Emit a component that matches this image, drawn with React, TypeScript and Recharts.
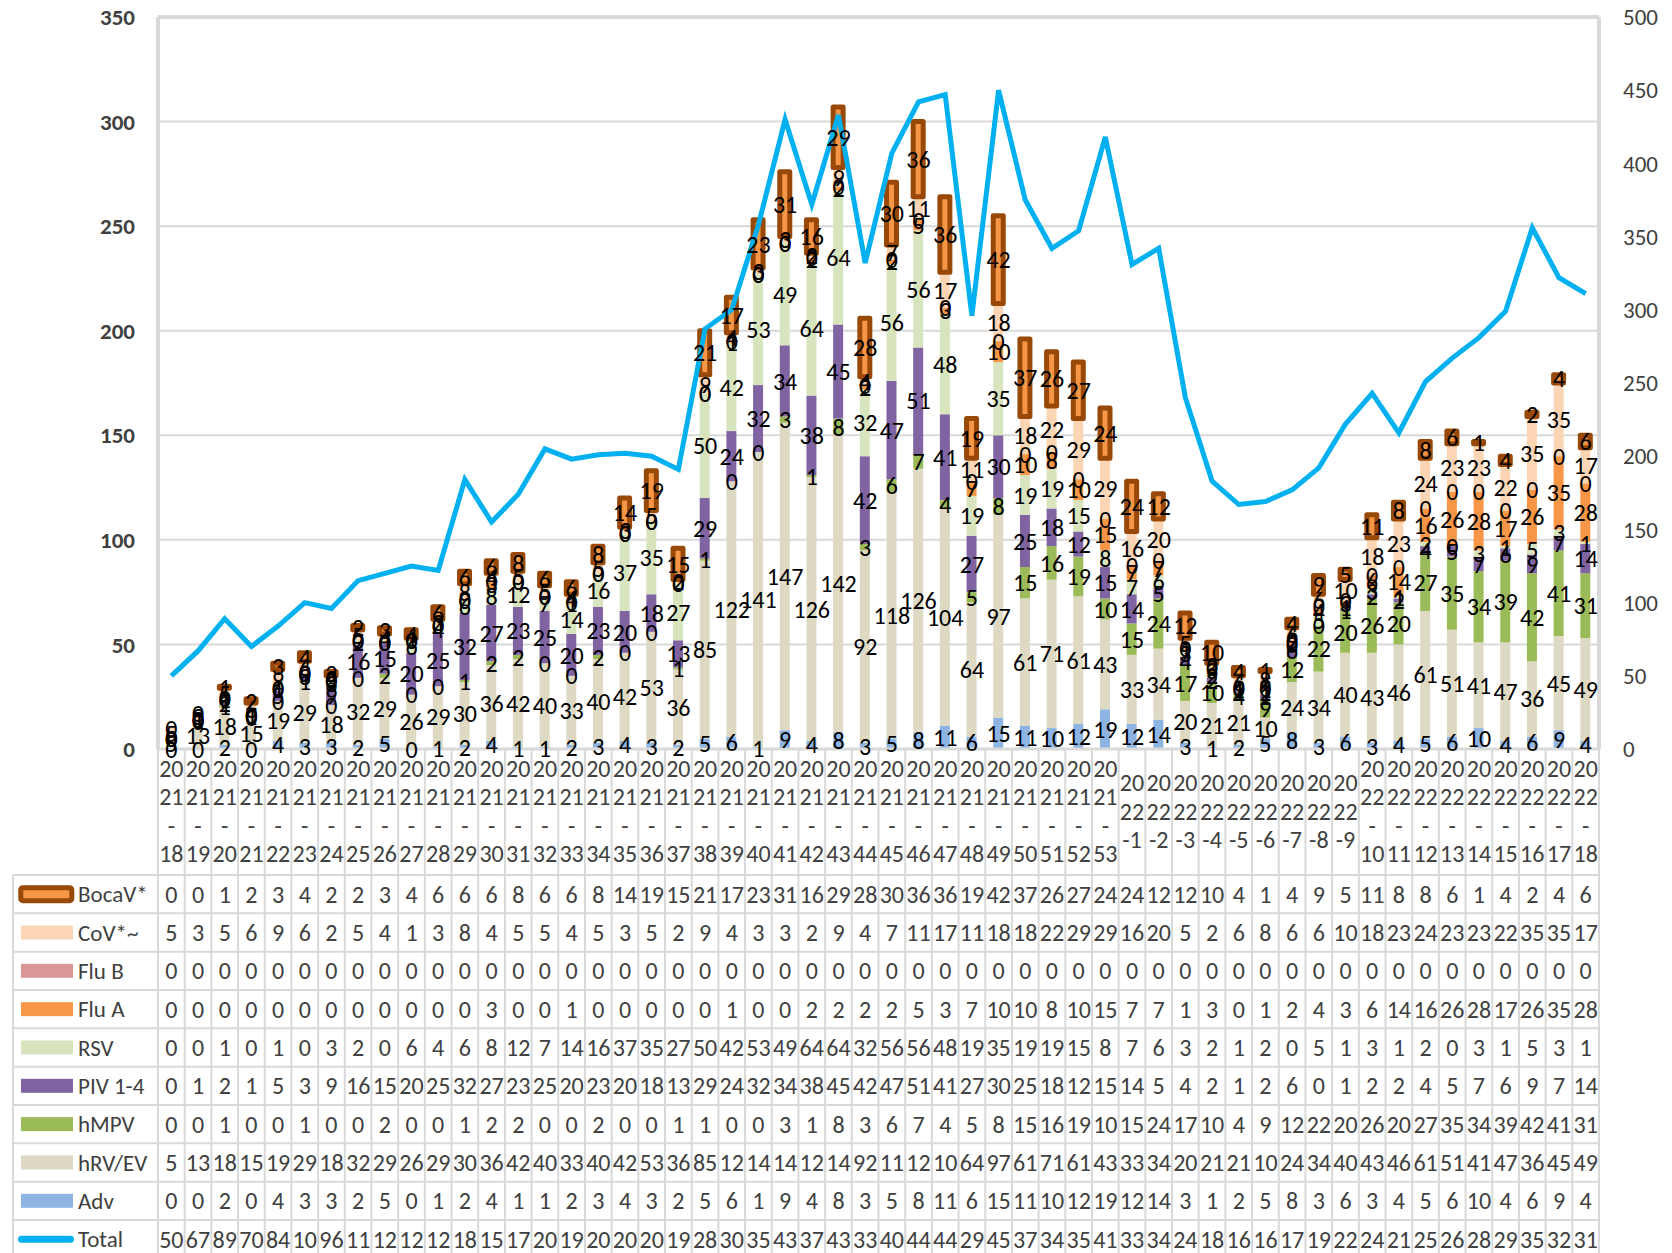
import React from "react";
import {
  ComposedChart,
  Bar,
  Line,
  XAxis,
  YAxis,
  CartesianGrid,
  ReferenceLine,
} from "recharts";

// weeks (year-week)
const weeks = [
  "2021-18", "2021-19", "2021-20", "2021-21", "2021-22", "2021-23", "2021-24", "2021-25", "2021-26",
  "2021-27", "2021-28", "2021-29", "2021-30", "2021-31", "2021-32", "2021-33", "2021-34", "2021-35",
  "2021-36", "2021-37", "2021-38", "2021-39", "2021-40", "2021-41", "2021-42", "2021-43", "2021-44",
  "2021-45", "2021-46", "2021-47", "2021-48", "2021-49", "2021-50", "2021-51", "2021-52", "2021-53",
  "2022-1", "2022-2", "2022-3", "2022-4", "2022-5", "2022-6", "2022-7", "2022-8", "2022-9",
  "2022-10", "2022-11", "2022-12", "2022-13", "2022-14", "2022-15", "2022-16", "2022-17", "2022-18",
];

const bocav = [0, 0, 1, 2, 3, 4, 2, 2, 3, 4, 6, 6, 6, 8, 6, 6, 8, 14, 19, 15, 21, 17, 23, 31, 16, 29, 28, 30, 36, 36, 19, 42, 37, 26, 27, 24, 24, 12, 12, 10, 4, 1, 4, 9, 5, 11, 8, 8, 6, 1, 4, 2, 4, 6];
const cov = [5, 3, 5, 6, 9, 6, 2, 5, 4, 1, 3, 8, 4, 5, 5, 4, 5, 3, 5, 2, 9, 4, 3, 3, 2, 9, 4, 7, 11, 17, 11, 18, 18, 22, 29, 29, 16, 20, 5, 2, 6, 8, 6, 6, 10, 18, 23, 24, 23, 23, 22, 35, 35, 17];
const flub = [0, 0, 0, 0, 0, 0, 0, 0, 0, 0, 0, 0, 0, 0, 0, 0, 0, 0, 0, 0, 0, 0, 0, 0, 0, 0, 0, 0, 0, 0, 0, 0, 0, 0, 0, 0, 0, 0, 0, 0, 0, 0, 0, 0, 0, 0, 0, 0, 0, 0, 0, 0, 0, 0];
const flua = [0, 0, 0, 0, 0, 0, 0, 0, 0, 0, 0, 0, 3, 0, 0, 1, 0, 0, 0, 0, 0, 1, 0, 0, 2, 2, 2, 2, 5, 3, 7, 10, 10, 8, 10, 15, 7, 7, 1, 3, 0, 1, 2, 4, 3, 6, 14, 16, 26, 28, 17, 26, 35, 28];
const rsv = [0, 0, 1, 0, 1, 0, 3, 2, 0, 6, 4, 6, 8, 12, 7, 14, 16, 37, 35, 27, 50, 42, 53, 49, 64, 64, 32, 56, 56, 48, 19, 35, 19, 19, 15, 8, 7, 6, 3, 2, 1, 2, 0, 5, 1, 3, 1, 2, 0, 3, 1, 5, 3, 1];
const piv = [0, 1, 2, 1, 5, 3, 9, 16, 15, 20, 25, 32, 27, 23, 25, 20, 23, 20, 18, 13, 29, 24, 32, 34, 38, 45, 42, 47, 51, 41, 27, 30, 25, 18, 12, 15, 14, 5, 4, 2, 1, 2, 6, 0, 1, 2, 2, 4, 5, 7, 6, 9, 7, 14];
const hmpv = [0, 0, 1, 0, 0, 1, 0, 0, 2, 0, 0, 1, 2, 2, 0, 0, 2, 0, 0, 1, 1, 0, 0, 3, 1, 8, 3, 6, 7, 4, 5, 8, 15, 16, 19, 10, 15, 24, 17, 10, 4, 9, 12, 22, 20, 26, 20, 27, 35, 34, 39, 42, 41, 31];
const hrv = [5, 13, 18, 15, 19, 29, 18, 32, 29, 26, 29, 30, 36, 42, 40, 33, 40, 42, 53, 36, 85, 122, 141, 147, 126, 142, 92, 118, 126, 104, 64, 97, 61, 71, 61, 43, 33, 34, 20, 21, 21, 10, 24, 34, 40, 43, 46, 61, 51, 41, 47, 36, 45, 49];
const adv = [0, 0, 2, 0, 4, 3, 3, 2, 5, 0, 1, 2, 4, 1, 1, 2, 3, 4, 3, 2, 5, 6, 1, 9, 4, 8, 3, 5, 8, 11, 6, 15, 11, 10, 12, 19, 12, 14, 3, 1, 2, 5, 8, 3, 6, 3, 4, 5, 6, 10, 4, 6, 9, 4];
const total = [50, 67, 89, 70, 84, 100, 96, 115, 120, 125, 122, 184, 155, 174, 205, 198, 201, 202, 200, 191, 287, 300, 358, 430, 372, 433, 332, 407, 442, 447, 296, 450, 375, 342, 354, 418, 331, 342, 240, 183, 167, 169, 177, 192, 222, 243, 216, 251, 267, 281, 299, 356, 322, 311];

const leftTicks = [0, 50, 100, 150, 200, 250, 300, 350];
const rightTicks = [0, 50, 100, 150, 200, 250, 300, 350, 400, 450, 500];

// stacked bottom -> top
const stackSeries = [
  { key: "adv", name: "Adv", color: "#8EB4E3", values: adv },
  { key: "hrv", name: "hRV/EV", color: "#DDD9C3", values: hrv },
  { key: "hmpv", name: "hMPV", color: "#9BBB59", values: hmpv },
  { key: "piv", name: "PIV 1-4", color: "#8064A2", values: piv },
  { key: "rsv", name: "RSV", color: "#D7E4BD", values: rsv },
  { key: "flua", name: "Flu A", color: "#F79646", values: flua },
  { key: "flub", name: "Flu B", color: "#D99694", values: flub },
  { key: "cov", name: "CoV*~", color: "#FCD5B5", values: cov },
  { key: "bocav", name: "BocaV*", color: "#F79646", values: bocav },
];

const data = weeks.map((w, i) => {
  const row: Record<string, any> = { week: w, total: total[i] };
  stackSeries.forEach((s) => (row[s.key] = s.values[i]));
  return row;
});

// middle of segment k in a stacked row (used to place the segment labels, 0s included)
function segMid(row: Record<string, any>, k: number) {
  let base = 0;
  for (let j = 0; j < k; j++) base += row[stackSeries[j].key];
  return base + row[stackSeries[k].key] / 2;
}

// table rows, top -> bottom
const tableRows = [...stackSeries].reverse().map((s) => ({ name: s.name, color: s.color, key: s.key, values: s.values }));
tableRows.push({ name: "Total", color: "#00B0F0", key: "total", values: total });

const W = 1672;
const H = 1253;
const PLOT_L = 158;
const PLOT_R = 1599;
const PLOT_T = 17;
const PLOT_B = 749;
const COL_W = (PLOT_R - PLOT_L) / weeks.length;
const HEAD_B = 875;
const ROW_H = 38.33;
const GRID = "#d9d9d9";
const TXT = "#404040";
const FONT = "Carlito, Calibri, Lato, sans-serif";
const FS = 24;

function LegendColumn() {
  return (
    <g>
      {tableRows.map((r, i) => (
        <line key={"h" + i} x1={13} x2={PLOT_R + 1} y1={HEAD_B + i * ROW_H} y2={HEAD_B + i * ROW_H} stroke={GRID} strokeWidth={2} />
      ))}
      <line x1={13} x2={13} y1={HEAD_B} y2={H} stroke={GRID} strokeWidth={2} />
      {tableRows.map((r, i) => {
        const cy = HEAD_B + ROW_H * (i + 0.5);
        let sw;
        if (r.key === "bocav") {
          sw = <rect x={20.8} y={cy - 6.5} width={51} height={13} rx={2} fill={r.color} stroke="#984807" strokeWidth={5} />;
        } else if (r.key === "total") {
          sw = <line x1={21.5} x2={70.5} y1={cy} y2={cy} stroke={r.color} strokeWidth={7} strokeLinecap="round" />;
        } else {
          sw = <rect x={21} y={cy - 7} width={52} height={14} fill={r.color} />;
        }
        return (
          <g key={"l" + i}>
            {sw}
            <text x={78} y={cy} dy="0.36em" fill={TXT} fontSize={23} fontFamily={FONT}>
              {r.name}
            </text>
          </g>
        );
      })}
    </g>
  );
}

function TableTick(props: any) {
  const { x, index } = props;
  const left = x - COL_W / 2;
  const [yr, wk] = weeks[index].split("-");
  const lines = wk.length > 1 ? [yr.slice(0, 2), yr.slice(2), "-", wk] : [yr.slice(0, 2), yr.slice(2), "-" + wk];
  const LH = 28.5;
  const mid = 811;
  const y0 = mid - ((lines.length - 1) * LH) / 2;
  return (
    <g>
      {index === 0 && <LegendColumn />}
      <line x1={left} x2={left} y1={PLOT_B} y2={H} stroke={GRID} strokeWidth={2} />
      {index === weeks.length - 1 && (
        <line x1={left + COL_W} x2={left + COL_W} y1={PLOT_B} y2={H} stroke={GRID} strokeWidth={2} />
      )}
      {lines.map((t, i) => (
        <text key={"c" + i} x={x} y={y0 + i * LH} dy="0.36em" textAnchor="middle" fill={TXT} fontSize={FS} fontFamily={FONT}>
          {t}
        </text>
      ))}
      {tableRows.map((r, i) => {
        // narrow cells only show the first two digits, as in the source table
        const s = String(r.values[index]).slice(0, 2);
        const cy = HEAD_B + ROW_H * (i + 0.5);
        return (
          <text key={"v" + i} x={x} y={cy} dy="0.36em" textAnchor="middle" fill={TXT} fontSize={FS} fontFamily={FONT}>
            {s}
          </text>
        );
      })}
    </g>
  );
}

function makeLabelDot(key: string) {
  return (p: any) => (
    <text
      key={key + p.index}
      x={p.cx}
      y={p.cy}
      dy="0.36em"
      textAnchor="middle"
      fill="#000"
      fontSize={FS}
      fontFamily={FONT}
    >
      {String(p.payload[key])}
    </text>
  );
}

export default function App() {
  return (
    <div style={{ position: "absolute", left: 0, top: 0, width: W, height: H, background: "#fff" }}>
      <ComposedChart width={W} height={H} data={data} margin={{ top: PLOT_T, right: 0, left: 0, bottom: 0 }}>
        <CartesianGrid yAxisId="left" vertical={false} stroke={GRID} strokeWidth={2} />
        <XAxis
          dataKey="week"
          type="category"
          interval={0}
          height={H - PLOT_B}
          tickLine={false}
          axisLine={{ stroke: GRID, strokeWidth: 3 }}
          tick={<TableTick />}
        />
        <YAxis
          yAxisId="left"
          domain={[0, 350]}
          ticks={leftTicks}
          width={PLOT_L}
          tickSize={0}
          tickMargin={23}
          tickLine={false}
          axisLine={{ stroke: GRID, strokeWidth: 4 }}
          tick={{ fill: TXT, fontSize: 23, fontWeight: 700, fontFamily: FONT }}
        />
        <YAxis
          yAxisId="right"
          orientation="right"
          domain={[0, 500]}
          ticks={rightTicks}
          width={W - PLOT_R}
          tickSize={0}
          tickMargin={24}
          tickLine={false}
          axisLine={{ stroke: GRID, strokeWidth: 4 }}
          tick={{ fill: TXT, fontSize: 23, fontFamily: FONT }}
        />
        <ReferenceLine yAxisId="left" y={350} stroke={GRID} strokeWidth={4} />
        {stackSeries.map((s) => (
          <Bar
            key={s.key}
            yAxisId="left"
            dataKey={s.key}
            stackId="a"
            barSize={10}
            fill={s.color}
            stroke={s.key === "bocav" ? "#984807" : undefined}
            strokeWidth={s.key === "bocav" ? 5 : 0}
            strokeLinejoin="round"
            isAnimationActive={false}
          />
        ))}
        <Line
          yAxisId="right"
          type="linear"
          dataKey="total"
          stroke="#00B0F0"
          strokeWidth={5}
          dot={false}
          activeDot={false}
          isAnimationActive={false}
        />
        {stackSeries.map((s, k) => (
          <Line
            key={"lbl-" + s.key}
            yAxisId="left"
            dataKey={(row: any) => segMid(row, k)}
            stroke="none"
            legendType="none"
            dot={makeLabelDot(s.key)}
            activeDot={false}
            isAnimationActive={false}
          />
        ))}
      </ComposedChart>
    </div>
  );
}
